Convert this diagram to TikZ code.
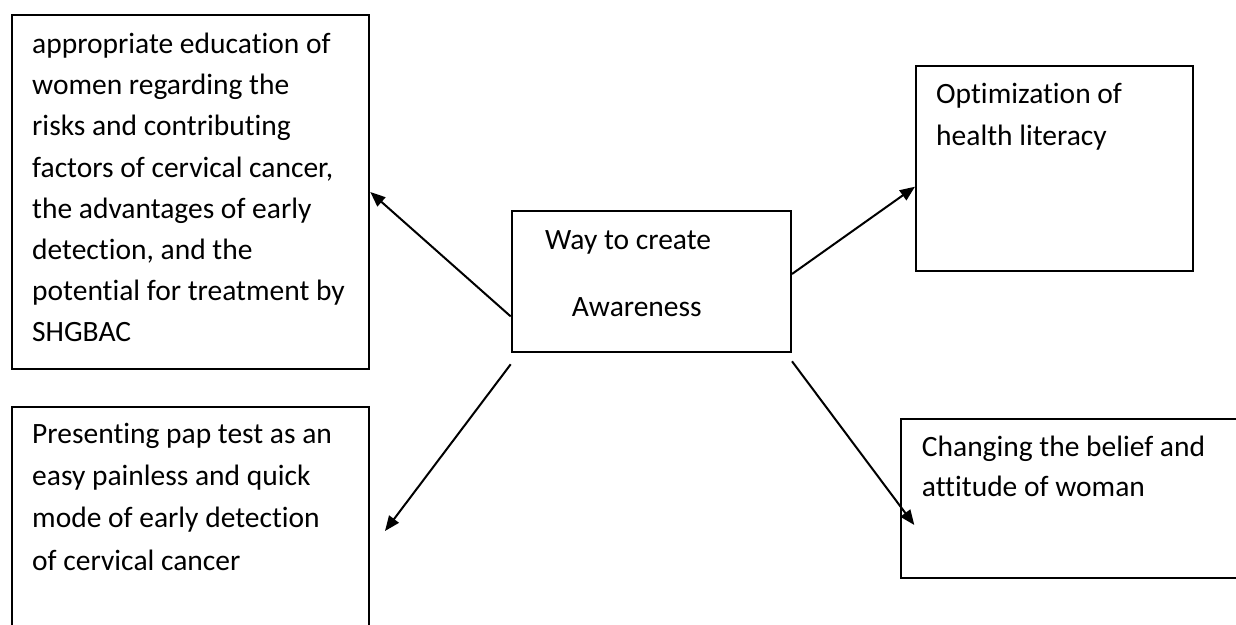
\documentclass[tikz,border=0pt]{standalone}
\usepackage{fontspec}
\setmainfont[RawFeature=-liga]{Carlito}
\usetikzlibrary{arrows.meta,calc}
\tikzset{
  box/.style={draw, line width=2pt, rectangle, inner sep=0pt, anchor=north west},
  txt/.style={inner sep=0pt, anchor=north west, align=left},
  conn/.style={line width=2pt, -{Triangle[length=15pt,width=12pt]}},
}
\newcommand{\fs}[1]{\fontsize{29.5}{#1}\selectfont}
\newcommand{\fl}{\rule{0pt}{21pt}}
\begin{document}
\begin{tikzpicture}[x=1pt,y=-1pt]
\clip (0,0) rectangle (1236,624);
% boxes
\node[box, minimum width=357.6pt, minimum height=354pt] (edu) at (10.7,14) {};
\node[box, minimum width=279.3pt, minimum height=140.7pt] (way) at (510.7,210) {};
\node[box, minimum width=277.3pt, minimum height=205pt] (opt) at (915,65) {};
\node[box, minimum width=357.6pt, minimum height=240pt] (pap) at (10.7,406) {};
\node[box, minimum width=360pt, minimum height=158.4pt] (belief) at (900,418.3) {};
% texts
\node[txt, font=\fs{41.2}] (edut) at (32,32.3) {\fl appropriate education of\\women regarding the\\risks and contributing\\factors of cervical cancer,\\the advantages of early\\detection, and the\\potential for treatment by\\SHGBAC};
\node[inner sep=0pt, anchor=base west, font=\fs{30}] (waya) at (545,249) {Way to create};
\node[inner sep=0pt, anchor=base west, font=\fs{30}] (wayb) at (571.7,316.7) {Awareness};
\node[txt, font=\fs{41.7}] (optt) at (936,82.3) {\fl Optimization of\\health literacy};
\node[txt, font=\fs{42.2}] (papt) at (32,422.3) {\fl Presenting pap test as an\\easy painless and quick\\mode of early detection\\of cervical cancer};
\node[txt, font=\fs{40}] (belieft) at (921.7,435.7) {\fl Changing the belief and\\attitude of woman};
% free ends
\coordinate (s3) at ($(way.south west)+(0,11.6)$);
\coordinate (s4) at ($(way.south east)+(0,8.6)$);
\coordinate (t3) at (385,531);
\coordinate (t4) at (914.3,525);
% connectors
\draw[conn] (way.194) -- (edu.east);
\draw[conn] (way.3) -- ($(opt.west)+(0,18.2)$);
\draw[conn] (s3) -- (t3);
\draw[conn] (s4) -- (t4);
\end{tikzpicture}
\end{document}
